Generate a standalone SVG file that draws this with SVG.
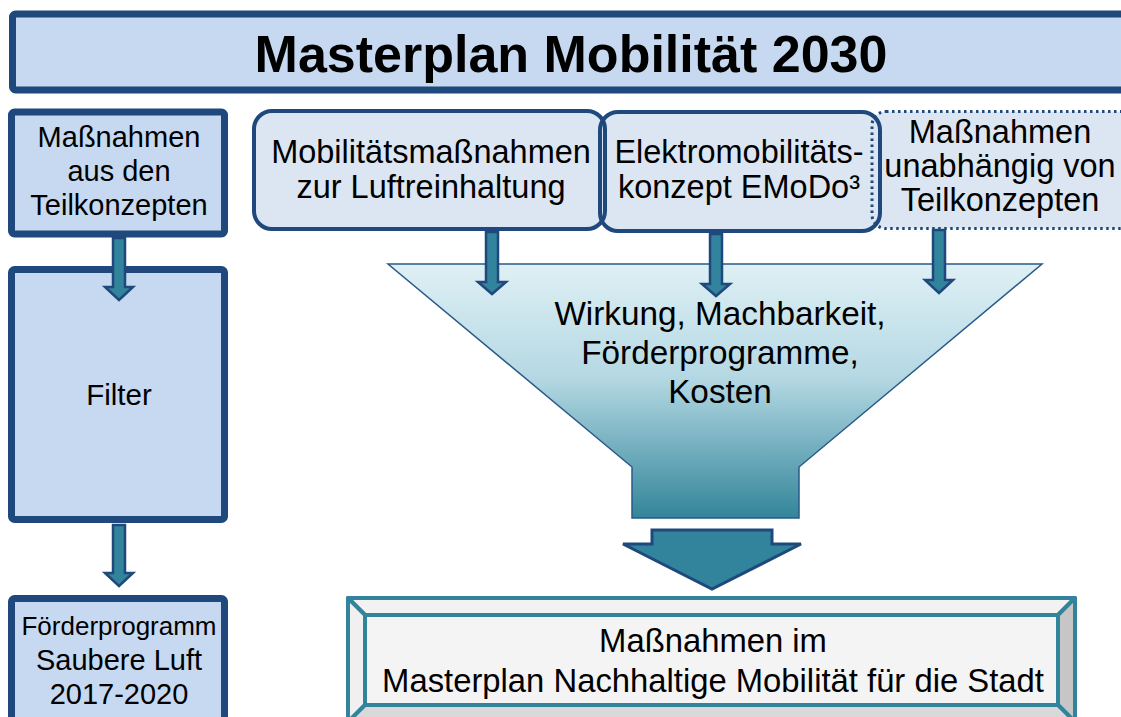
<svg xmlns="http://www.w3.org/2000/svg" width="1121" height="717" viewBox="0 0 1121 717">
  <defs>
    <style>
      .t { font-family: "Liberation Sans", Arial, sans-serif; fill: #000; text-anchor: middle; }
      .leftbox { fill: #c6d9f0; stroke: #1f497d; stroke-width: 7; }
      .topbox { fill: #dce6f2; }
      .topline { fill: none; stroke: #1f497d; stroke-width: 4; }
      .dotline { fill: none; stroke: #1f497d; stroke-width: 3; stroke-dasharray: 2.5 3.5; }
      .small-arrow { fill: #31849b; stroke: #1f497d; stroke-width: 2.5; stroke-linejoin: miter; }
      .bevel { stroke: #31849b; stroke-width: 4; stroke-linejoin: round; }
    </style>
    <linearGradient id="funnelGrad" x1="0" y1="0" x2="0" y2="1">
      <stop offset="0" stop-color="#dff0f5"/>
      <stop offset="0.45" stop-color="#b4d8e3"/>
      <stop offset="1" stop-color="#338599"/>
    </linearGradient>
  </defs>

  <rect width="1121" height="717" fill="#ffffff"/>

  <!-- title bar -->
  <g id="title">
    <rect x="12.5" y="14" width="1115" height="76" rx="3" fill="#c6d9f0" stroke="#1f497d" stroke-width="7"/>
    <text class="t" x="571" y="72" font-size="52" font-weight="bold">Masterplan Mobilität 2030</text>
  </g>

  <!-- left column -->
  <g id="massnahmen-teilkonzepte">
    <rect class="leftbox" x="11.5" y="112" width="213" height="122" rx="3"/>
    <text class="t" x="119" y="147" font-size="29">Maßnahmen</text>
    <text class="t" x="119" y="181" font-size="29">aus den</text>
    <text class="t" x="119" y="215" font-size="29">Teilkonzepten</text>
  </g>
  <g id="filter">
    <rect class="leftbox" x="11.5" y="269.5" width="213" height="250" rx="3"/>
    <text class="t" x="119" y="405" font-size="29.5">Filter</text>
  </g>
  <g id="foerderprogramm">
    <rect class="leftbox" x="11.5" y="598.5" width="213" height="130" rx="3"/>
    <text class="t" x="119" y="635" font-size="26">Förderprogramm</text>
    <text class="t" x="119" y="670" font-size="29">Saubere Luft</text>
    <text class="t" x="119" y="704" font-size="29">2017-2020</text>
  </g>

  <!-- top row sources: fills first, outlines after so overlapping borders stay visible -->
  <g id="sources">
    <rect class="topbox" x="254" y="111" width="351" height="118" rx="18"/>
    <rect class="topbox" x="600" y="112" width="280" height="119" rx="18"/>
    <rect class="topbox" x="872" y="111.5" width="262" height="117" rx="14"/>
  </g>
  <g id="luftreinhaltung">
    <rect class="topline" x="254" y="111" width="351" height="118" rx="18"/>
    <text class="t" x="431" y="163" font-size="32.5">Mobilitätsmaßnahmen</text>
    <text class="t" x="431" y="198" font-size="32.5">zur Luftreinhaltung</text>
  </g>
  <g id="emodo">
    <rect class="topline" x="600" y="112" width="280" height="119" rx="18"/>
    <text class="t" x="739" y="163" font-size="32.5">Elektromobilitäts-</text>
    <text class="t" x="739" y="198" font-size="32.5">konzept EMoDo³</text>
  </g>
  <g id="unabhaengig">
    <rect class="dotline" x="872" y="111.5" width="262" height="117" rx="14"/>
    <text class="t" x="1000" y="143" font-size="32.5">Maßnahmen</text>
    <text class="t" x="1000" y="177" font-size="32.5">unabhängig von</text>
    <text class="t" x="1000" y="211" font-size="32.5">Teilkonzepten</text>
  </g>

  <!-- funnel -->
  <g id="funnel">
    <polygon points="388,264 1042,264 799,467 799,518 632,518 632,467" fill="url(#funnelGrad)" stroke="#2a5a8a" stroke-width="1.5"/>
    <text class="t" x="720" y="325" font-size="33.3">Wirkung, Machbarkeit,</text>
    <text class="t" x="720" y="364" font-size="33.3">Förderprogramme,</text>
    <text class="t" x="720" y="403" font-size="33.3">Kosten</text>
  </g>

  <!-- result -->
  <g id="ergebnis">
    <polygon class="bevel" points="348,598 1075,598 1058,615 365,615" fill="#f2f2f2"/>
    <polygon class="bevel" points="348,598 365,615 365,705 348,722" fill="#f0f0f0"/>
    <polygon class="bevel" points="1075,598 1075,722 1058,705 1058,615" fill="#c6c6c6"/>
    <polygon class="bevel" points="348,722 365,705 1058,705 1075,722" fill="#d9d9d9"/>
    <rect class="bevel" x="365" y="615" width="693" height="90" fill="#f4f4f4"/>
    <text class="t" x="713" y="652" font-size="32.8">Maßnahmen im</text>
    <text class="t" x="713" y="692" font-size="32.8">Masterplan Nachhaltige Mobilität für die Stadt</text>
  </g>

  <!-- connectors -->
  <g id="connectors">
    <path class="small-arrow" d="M113,238 L125,238 L125,287 L133,287 L119,300 L105,287 L113,287 Z"/>
    <path class="small-arrow" d="M113,525 L125,525 L125,573 L133,573 L119,586 L105,573 L113,573 Z"/>
    <path class="small-arrow" d="M486,232 L498,232 L498,282 L506,282 L492,294 L478,282 L486,282 Z"/>
    <path class="small-arrow" d="M710,234 L722,234 L722,284 L730,284 L716,296 L702,284 L710,284 Z"/>
    <path class="small-arrow" d="M933,230 L945,230 L945,280 L953,280 L939,293 L925,280 L933,280 Z"/>
    <path d="M652,530 L772,530 L772,544 L801,544 L712,589 L623,544 L652,544 Z" fill="#31849b" stroke="#1f497d" stroke-width="3" stroke-linejoin="miter"/>
  </g>
</svg>
